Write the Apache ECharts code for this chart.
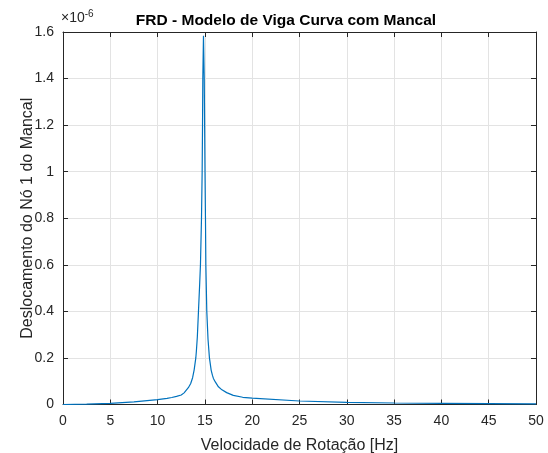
<!DOCTYPE html>
<html>
<head>
<meta charset="utf-8">
<script src="https://cdn.jsdelivr.net/npm/echarts@6/dist/echarts.min.js"></script>
<style>
  html, body { margin: 0; padding: 0; background: #fff; }
  #chart { width: 548px; height: 453px; }
</style>
</head>
<body>
<div id="chart"></div>
<script>
// frequency [Hz] and displacement [x 1e-6]
const freq = [0, 2.5, 5, 7.5, 10, 11, 11.5, 12, 12.5, 12.8, 13, 13.25, 13.5, 13.7, 13.86, 14.04, 14.1, 14.2, 14.32, 14.45, 14.53, 14.64, 14.71, 14.75, 14.78, 14.85,
              14.93, 14.97, 15.01, 15.06, 15.1, 15.2, 15.33, 15.48, 15.66, 15.8, 15.9, 16.1, 16.43, 16.8, 17.3, 18, 19, 20, 25, 30, 35, 40, 45, 50];
const disp = [0, 0.002, 0.005, 0.011, 0.021, 0.026, 0.030, 0.035, 0.041, 0.050, 0.058, 0.072, 0.09, 0.115, 0.148, 0.2, 0.23, 0.29, 0.4, 0.52, 0.6, 0.8, 1.0, 1.2, 1.4, 1.584,
              1.4, 1.2, 1.0, 0.8, 0.6, 0.4, 0.28, 0.2, 0.148, 0.125, 0.112, 0.097, 0.076, 0.063, 0.051, 0.039, 0.031, 0.027, 0.015, 0.0095, 0.0065, 0.005, 0.004, 0.003];
const xTicks = [0, 50, 5];
const yTicks = [0, 1.6, 0.2];

const font = 'Liberation Sans, Arial, sans-serif';
const axisColor = '#262626';

let chart = echarts.init(document.getElementById('chart'));

function axisBase(extra) {
    return Object.assign({
        type: 'value',
        axisLine: { show: true, onZero: false, lineStyle: { color: axisColor, width: 1 } },
        axisTick: { show: true, inside: true, length: 5, lineStyle: { color: axisColor } },
        axisLabel: { show: true, color: axisColor, fontSize: 14, fontFamily: font },
        splitLine: { show: false }
    }, extra);
}

let option = {
    animation: false,
    title: {
        text: 'FRD - Modelo de Viga Curva com Mancal',
        left: 281, top: 8, textAlign: 'center',
        textStyle: { fontSize: 15.5, fontWeight: 'bold', color: '#000', fontFamily: font }
    },
    grid: { left: 63, right: 12, top: 32, bottom: 48.5, outerBoundsMode: 'none' },
    xAxis: [
        axisBase({
            min: xTicks[0], max: xTicks[1], interval: xTicks[2],
            name: 'Velocidade de Rota\u00e7\u00e3o [Hz]',
            nameLocation: 'middle', nameGap: 33, nameMoveOverlap: false,
            nameTextStyle: { fontSize: 16, color: axisColor, fontFamily: font },
            axisLabel: { color: axisColor, fontSize: 14, fontFamily: font, margin: 10 },
            splitLine: { show: true, lineStyle: { color: '#e3e3e3' } }
        }),
        axisBase({
            position: 'top', min: xTicks[0], max: xTicks[1], interval: xTicks[2],
            axisLabel: { show: false }
        })
    ],
    yAxis: [
        axisBase({
            min: yTicks[0], max: yTicks[1], interval: yTicks[2],
            name: 'Deslocamento do N\u00f3 1 do Mancal',
            nameLocation: 'middle', nameGap: 27, nameMoveOverlap: false,
            nameTextStyle: { fontSize: 16, color: axisColor, fontFamily: font },
            axisLabel: {
                color: axisColor, fontSize: 14, fontFamily: font, margin: 9,
                formatter: v => String(Math.round(v * 10) / 10)
            },
            splitLine: { show: true, lineStyle: { color: '#e3e3e3' } }
        }),
        axisBase({
            position: 'right', min: yTicks[0], max: yTicks[1], interval: yTicks[2],
            axisLabel: { show: false }
        })
    ],
    graphic: [{
        type: 'text', left: 61, top: 9,
        style: {
            text: '{a|\u00d710}{b|-6}',
            rich: {
                a: { fontSize: 14, fill: axisColor, fontFamily: font },
                b: { fontSize: 10, fill: axisColor, fontFamily: font, verticalAlign: 'top', padding: [0, 0, 9, 0] }
            }
        }
    }],
    series: [{
        type: 'line',
        data: freq.map((f, i) => [f, disp[i]]),
        showSymbol: false,
        smooth: false,
        lineStyle: { color: '#0072BD', width: 1.2 },
        clip: true
    }]
};

chart.setOption(option);
</script>
</body>
</html>
